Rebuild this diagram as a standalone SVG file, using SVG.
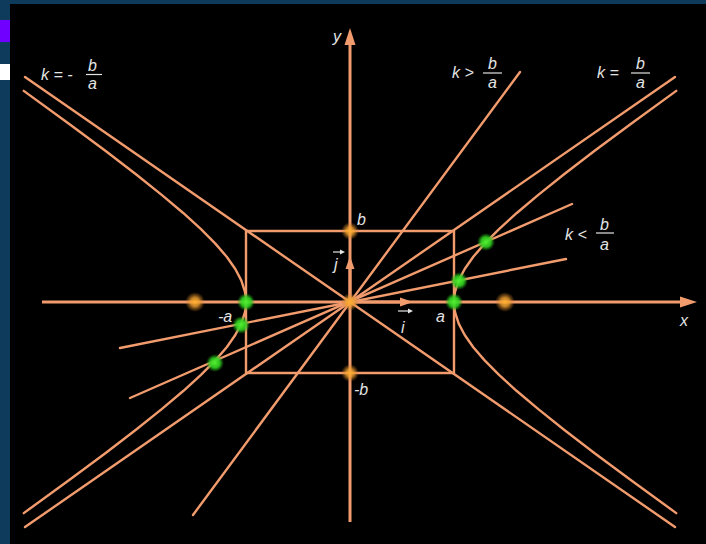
<svg xmlns="http://www.w3.org/2000/svg" width="706" height="544" viewBox="0 0 706 544">
<defs>
<radialGradient id="glowO">
<stop offset="0" stop-color="#ffb030" stop-opacity="1"/>
<stop offset="0.45" stop-color="#f0a030" stop-opacity="0.8"/>
<stop offset="1" stop-color="#c07020" stop-opacity="0"/>
</radialGradient>
<radialGradient id="glowG">
<stop offset="0" stop-color="#50f030" stop-opacity="1"/>
<stop offset="0.55" stop-color="#30d020" stop-opacity="0.9"/>
<stop offset="1" stop-color="#20a010" stop-opacity="0"/>
</radialGradient>
</defs>
<style>
.ln{stroke:#f29c6e;stroke-width:2.4;fill:none;stroke-linecap:round;stroke-linejoin:round}
.ax{stroke:#f29c6e;stroke-width:3;fill:none}
.hd{fill:#f29c6e}
.t{font-family:"Liberation Sans","DejaVu Sans",sans-serif;font-style:italic;font-size:16px;fill:#e4e4e4}
.fb{stroke:#e4e4e4;stroke-width:1.2}
</style>
<rect x="0" y="0" width="706" height="544" fill="#0e3a5c"/>
<rect x="10" y="4" width="696" height="540" fill="#000"/>
<rect x="0" y="20" width="10" height="22" fill="#7000ff"/>
<rect x="0" y="64" width="10" height="16" fill="#ffffff"/>

<g id="connectors">
<line class="ax" x1="42" y1="302" x2="684" y2="302"/>
<path class="hd" d="M697,302 L680,296.5 L680,307.5 z"/>
<line class="ax" x1="350" y1="522" x2="350" y2="42"/>
<path class="hd" d="M350,28 L344.5,45 L355.5,45 z"/>
<rect class="ln" x="246" y="231" width="208" height="142"/>
<line class="ln" x1="25" y1="77" x2="675" y2="527"/>
<line class="ln" x1="675" y1="77" x2="25" y2="527"/>
<line class="ln" x1="520" y1="72" x2="193" y2="515"/>
<line class="ln" x1="572" y1="204" x2="130" y2="398"/>
<line class="ln" x1="566" y1="259" x2="120" y2="348"/>
<polyline class="ln" points="676.25,513.11 630.75,480.03 594.65,453.18 564.07,429.74 538.31,409.17 516.79,391.02 499.04,374.88 484.65,360.38 473.29,347.2 464.71,335.04 458.72,323.62 455.17,312.69 454.29,307.33 454,302 454.29,296.67 455.17,291.31 458.72,280.38 464.71,268.96 473.29,256.8 484.65,243.62 499.04,229.12 516.79,212.98 538.31,194.83 564.07,174.26 594.65,150.82 630.75,123.97 676.25,90.89"/>
<polyline class="ln" points="23.75,513.11 69.25,480.03 105.35,453.18 135.93,429.74 161.69,409.17 183.21,391.02 200.96,374.88 215.35,360.38 226.71,347.2 235.29,335.04 241.28,323.62 244.83,312.69 245.71,307.33 246,302 245.71,296.67 244.83,291.31 241.28,280.38 235.29,268.96 226.71,256.8 215.35,243.62 200.96,229.12 183.21,212.98 161.69,194.83 135.93,174.26 105.35,150.82 69.25,123.97 23.75,90.89"/>
<line class="ax" x1="350" y1="302" x2="402" y2="302"/>
<path class="hd" d="M413,302 L400,297.5 L400,306.5 z"/>
<line class="ax" x1="350" y1="302" x2="350" y2="268"/>
<path class="hd" d="M350,256 L345.5,269 L354.5,269 z"/>
</g>

<g id="points">
<circle cx="195" cy="302" r="10" fill="url(#glowO)"/>
<circle cx="505" cy="302" r="10" fill="url(#glowO)"/>
<circle cx="350" cy="231" r="9" fill="url(#glowO)"/>
<circle cx="350" cy="373" r="9" fill="url(#glowO)"/>
<circle cx="350" cy="302" r="9" fill="url(#glowO)"/>
<circle cx="486" cy="242" r="9" fill="url(#glowG)"/>
<circle cx="459" cy="281" r="9" fill="url(#glowG)"/>
<circle cx="454" cy="302" r="9" fill="url(#glowG)"/>
<circle cx="246" cy="302" r="9" fill="url(#glowG)"/>
<circle cx="241" cy="325" r="9" fill="url(#glowG)"/>
<circle cx="215" cy="363" r="9" fill="url(#glowG)"/>
</g>

<g id="labels">
<text class="t" x="333" y="42">y</text>
<text class="t" x="680" y="326">x</text>
<text class="t" x="357" y="225">b</text>
<text class="t" x="354" y="395">-b</text>
<text class="t" x="436" y="322">a</text>
<text class="t" x="218" y="322">-a</text>
<text class="t" x="401" y="333">i</text>
<line class="fb" x1="398" y1="311" x2="411" y2="311"/>
<path d="M413,311 L408,308.5 L408,313.5 z" fill="#e4e4e4"/>
<text class="t" x="334" y="270">j</text>
<line class="fb" x1="333" y1="252" x2="343" y2="252"/>
<path d="M345,252 L340,249.5 L340,254.5 z" fill="#e4e4e4"/>
</g>

<g id="label-k-neg">
<text class="t" x="41" y="80">k = -</text>
<text class="t" x="88" y="71">b</text>
<line class="fb" x1="86" y1="74.5" x2="102" y2="74.5"/>
<text class="t" x="88" y="89">a</text>
</g>
<g id="label-k-gt">
<text class="t" x="452" y="78">k &gt;</text>
<text class="t" x="488" y="69">b</text>
<line class="fb" x1="483" y1="73" x2="502" y2="73"/>
<text class="t" x="488" y="88">a</text>
</g>
<g id="label-k-eq">
<text class="t" x="597" y="78">k =</text>
<text class="t" x="636" y="69">b</text>
<line class="fb" x1="631" y1="73" x2="650" y2="73"/>
<text class="t" x="636" y="88">a</text>
</g>
<g id="label-k-lt">
<text class="t" x="565" y="240">k &lt;</text>
<text class="t" x="600" y="230">b</text>
<line class="fb" x1="596" y1="233" x2="614" y2="233"/>
<text class="t" x="600" y="250">a</text>
</g>
</svg>
